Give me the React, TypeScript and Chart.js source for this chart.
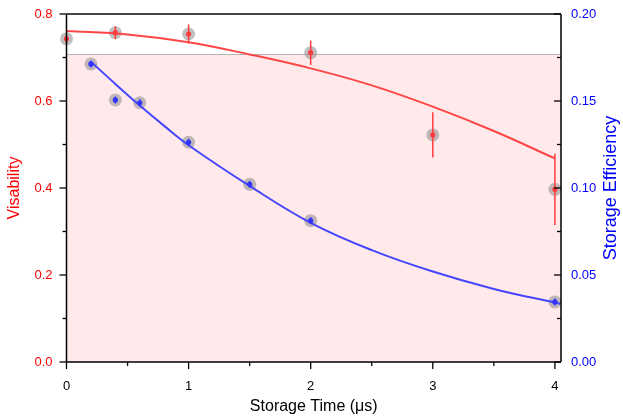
import React, { useEffect, useRef } from "react";
import { Chart, registerables } from "chart.js";

Chart.register(...registerables);

// ---- data ----
const redT = [0, 0.4, 1, 2, 3, 4];
const redV = [0.743, 0.757, 0.754, 0.711, 0.522, 0.397];
const redErr = [0.01, 0.015, 0.022, 0.028, 0.052, 0.082];

const blueT = [0.2, 0.4, 0.6, 1, 1.5, 2, 4];
const blueV = [0.1713, 0.1506, 0.149, 0.1263, 0.1021, 0.0812, 0.0345];
const blueErr = [0.002, 0.002, 0.002, 0.002, 0.002, 0.002, 0.002];

const redFitT = [0, 0.5, 1, 1.5, 2, 2.5, 3, 3.5, 4];
const redFitV = [0.761, 0.753, 0.735, 0.707, 0.675, 0.636, 0.587, 0.531, 0.468];

const blueFitT = [0.2, 0.4, 0.6, 0.8, 1, 1.5, 2, 2.5, 3, 3.5, 4, 4.05];
const blueFitV = [0.1726, 0.1598, 0.1474, 0.1357, 0.1246, 0.1012, 0.0800, 0.0643, 0.0520, 0.0420, 0.0341, 0.0334];

const limitLevel = 0.707;

const xTicks = [0, 1, 2, 3, 4];
const yLeftTicks = [0, 0.2, 0.4, 0.6, 0.8];
const yRightTicks = [0, 0.05, 0.1, 0.15, 0.2];

const xTitle = "Storage Time (\u03bcs)";
const yLeftTitle = "Visability";
const yRightTitle = "Storage Efficiency";

const RED = "rgb(255,0,0)";
const BLUE = "rgb(0,0,255)";
const FONT = "'Liberation Sans', Arial, sans-serif";

const pts = (xs: number[], ys: number[]) => xs.map((x, i) => ({ x, y: ys[i] }));
const mids = (a: number[]) => a.slice(0, -1).map((v, i) => (v + a[i + 1]) / 2);

const customPlugin = {
  id: "customDraw",
  beforeDatasetsDraw(chart: any) {
    const { ctx, chartArea: a, scales } = chart;
    const yl = scales.y.getPixelForValue(limitLevel);
    ctx.save();
    ctx.fillStyle = "rgb(255,233,235)";
    ctx.fillRect(a.left, yl, a.right - a.left, a.bottom - yl);
    ctx.strokeStyle = "rgb(180,180,180)";
    ctx.lineWidth = 1;
    ctx.beginPath();
    ctx.moveTo(a.left, Math.round(yl) + 0.5);
    ctx.lineTo(a.right, Math.round(yl) + 0.5);
    ctx.stroke();
    ctx.restore();
  },
  afterDatasetsDraw(chart: any) {
    const { ctx, scales } = chart;
    const xs = scales.x;
    const drawSet = (T: number[], V: number[], E: number[], scale: any, color: string) => {
      ctx.save();
      ctx.strokeStyle = color;
      ctx.fillStyle = color;
      ctx.lineWidth = 1.5;
      T.forEach((t, i) => {
        const px = xs.getPixelForValue(t);
        const py = scale.getPixelForValue(V[i]);
        const p1 = scale.getPixelForValue(V[i] + E[i]);
        const p2 = scale.getPixelForValue(V[i] - E[i]);
        ctx.beginPath();
        ctx.moveTo(px, p1);
        ctx.lineTo(px, p2);
        ctx.stroke();
        ctx.beginPath();
        ctx.arc(px, py, 2.6, 0, Math.PI * 2);
        ctx.fill();
      });
      ctx.restore();
    };
    drawSet(redT, redV, redErr, scales.y, "rgb(255,60,60)");
    drawSet(blueT, blueV, blueErr, scales.y2, "rgb(50,50,255)");
  },
  afterDraw(chart: any) {
    const { ctx, chartArea: a, scales } = chart;
    ctx.save();
    ctx.strokeStyle = "#000";
    ctx.lineWidth = 1.5;
    ctx.beginPath();
    ctx.moveTo(a.left, a.top);
    ctx.lineTo(a.left, a.bottom);
    ctx.lineTo(a.right, a.bottom);
    ctx.moveTo(a.right, a.top);
    ctx.lineTo(a.right, a.bottom);
    ctx.stroke();
    ctx.strokeStyle = "rgb(70,70,70)";
    ctx.lineWidth = 2.2;
    ctx.beginPath();
    ctx.moveTo(a.left, a.top);
    ctx.lineTo(a.right, a.top);
    ctx.stroke();

    ctx.strokeStyle = "#000";
    ctx.lineWidth = 1.3;
    const drawY = (vals: number[], len: number, scale: any, x0: number, dir: number) => {
      vals.forEach((v) => {
        const py = scale.getPixelForValue(v);
        ctx.beginPath();
        ctx.moveTo(x0, py);
        ctx.lineTo(x0 + dir * len, py);
        ctx.stroke();
      });
    };
    drawY(yLeftTicks, 7, scales.y, a.left, -1);
    drawY(mids(yLeftTicks), 4, scales.y, a.left, -1);
    drawY(yRightTicks, 7, scales.y2, a.right, -1);
    drawY(mids(yRightTicks), 4, scales.y2, a.right, -1);
    const drawX = (vals: number[], len: number) => {
      vals.forEach((v) => {
        const px = scales.x.getPixelForValue(v);
        ctx.beginPath();
        ctx.moveTo(px, a.bottom);
        ctx.lineTo(px, a.bottom + len);
        ctx.stroke();
      });
    };
    drawX(xTicks, 7);
    drawX(mids(xTicks), 4);

    const cy = (a.top + a.bottom) / 2;
    ctx.textAlign = "center";
    ctx.textBaseline = "middle";
    ctx.font = `16px ${FONT}`;
    ctx.fillStyle = RED;
    ctx.save();
    ctx.translate(15, cy);
    ctx.rotate(-Math.PI / 2);
    ctx.fillText(yLeftTitle, 0, 0);
    ctx.restore();
    ctx.font = `18px ${FONT}`;
    ctx.fillStyle = BLUE;
    ctx.save();
    ctx.translate(611, cy);
    ctx.rotate(-Math.PI / 2);
    ctx.fillText(yRightTitle, 0, 0);
    ctx.restore();
    ctx.font = `16px ${FONT}`;
    ctx.fillStyle = "#000";
    ctx.fillText(xTitle, (a.left + a.right) / 2, 407);
    ctx.restore();
  },
};

export default function App() {
  const ref = useRef<HTMLCanvasElement | null>(null);
  useEffect(() => {
    document.body.style.margin = "0";
    if (!ref.current) return;
    const setTicks = (vals: number[]) => (scale: any) => {
      scale.ticks = vals.map((v) => ({ value: v }));
    };
    const fitY = (w: number) => (s: any) => {
      s.width = w;
      s.paddingTop = 0;
      s.paddingBottom = 0;
    };
    const chart = new Chart(ref.current, {
      type: "scatter",
      data: {
        datasets: [
          {
            data: pts(redFitT, redFitV),
            showLine: true,
            borderColor: "rgb(255,70,70)",
            borderWidth: 2,
            pointRadius: 0,
            tension: 0.4,
            yAxisID: "y",
            order: 1,
          } as any,
          {
            data: pts(blueFitT, blueFitV),
            showLine: true,
            borderColor: "rgb(70,70,255)",
            borderWidth: 2,
            pointRadius: 0,
            tension: 0.4,
            yAxisID: "y2",
            order: 1,
            clip: 4,
          } as any,
          {
            data: pts(redT, redV),
            pointRadius: 6.5,
            pointBackgroundColor: "rgba(140,140,140,0.55)",
            pointBorderWidth: 0,
            yAxisID: "y",
            order: 2,
            clip: false,
          } as any,
          {
            data: pts(blueT, blueV),
            pointRadius: 6.5,
            pointBackgroundColor: "rgba(140,140,140,0.55)",
            pointBorderWidth: 0,
            yAxisID: "y2",
            order: 2,
            clip: false,
          } as any,
        ],
      },
      options: {
        animation: false,
        responsive: false,
        layout: { padding: { top: 14, left: 0, right: 0, bottom: 0 } },
        plugins: { legend: { display: false }, tooltip: { enabled: false } },
        scales: {
          x: {
            type: "linear",
            min: 0,
            max: 4.05,
            afterBuildTicks: setTicks(xTicks),
            afterFit: (s: any) => {
              s.height = 56;
              s.paddingLeft = 0;
              s.paddingRight = 0;
            },
            grid: { display: false, drawTicks: false },
            border: { display: false },
            ticks: {
              padding: 17,
              color: "#000",
              font: { family: FONT, size: 13 },
              maxRotation: 0,
              callback: (v: any) => String(v),
            },
          },
          y: {
            type: "linear",
            position: "left",
            min: 0,
            max: 0.8,
            afterBuildTicks: setTicks(yLeftTicks),
            afterFit: fitY(66.5),
            grid: { display: false, drawTicks: false },
            border: { display: false },
            ticks: {
              padding: 14,
              color: RED,
              font: { family: FONT, size: 13 },
              callback: (v: any) => Number(v).toFixed(1),
            },
          },
          y2: {
            type: "linear",
            position: "right",
            min: 0,
            max: 0.2,
            afterBuildTicks: setTicks(yRightTicks),
            afterFit: fitY(62),
            grid: { display: false, drawTicks: false },
            border: { display: false },
            ticks: {
              padding: 10,
              color: BLUE,
              font: { family: FONT, size: 13 },
              callback: (v: any) => Number(v).toFixed(2),
            },
          },
        },
      },
      plugins: [customPlugin],
    });
    return () => chart.destroy();
  }, []);
  return <canvas ref={ref} width={623} height={418} style={{ display: "block" }} />;
}
